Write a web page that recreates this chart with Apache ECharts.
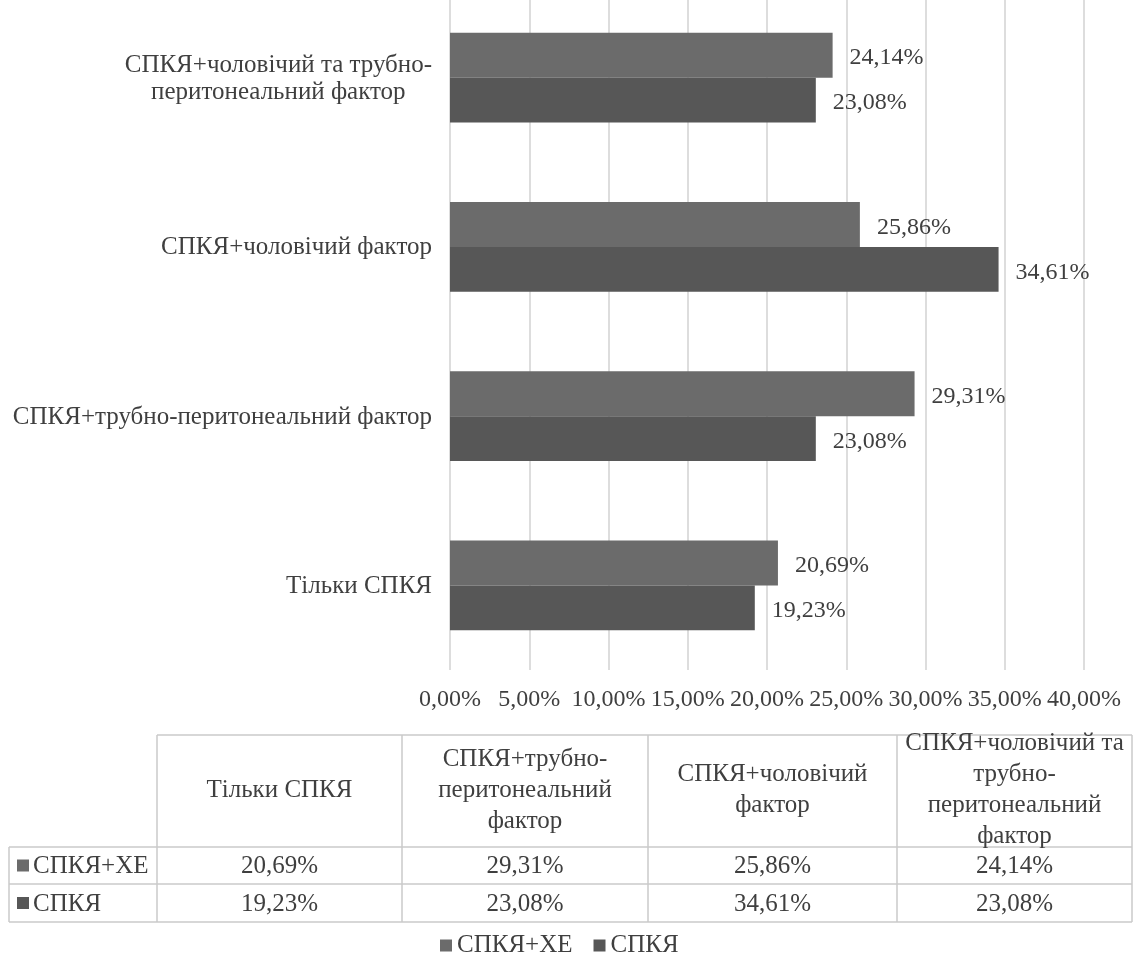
<!DOCTYPE html>
<html>
<head>
<meta charset="utf-8">
<script src="https://cdn.jsdelivr.net/npm/echarts@6/dist/echarts.min.js"></script>
<style>
html, body { margin: 0; padding: 0; background: #fff; }
#main { width: 1136px; height: 956px; }
</style>
</head>
<body>
<div id="main"></div>
<script>
var categories = ['Тільки СПКЯ', 'СПКЯ+трубно-перитонеальний фактор', 'СПКЯ+чоловічий фактор', 'СПКЯ+чоловічий та трубно-перитонеальний фактор'];
var axisLabels = ['Тільки СПКЯ', 'СПКЯ+трубно-перитонеальний фактор', 'СПКЯ+чоловічий фактор', 'СПКЯ+чоловічий та трубно-\nперитонеальний фактор'];
var tableHeaders = ['Тільки СПКЯ', 'СПКЯ+трубно-\nперитонеальний\nфактор', 'СПКЯ+чоловічий\nфактор', 'СПКЯ+чоловічий та\nтрубно-\nперитонеальний\nфактор'];
var seriesNames = ['СПКЯ+ХЕ', 'СПКЯ'];
var valuesXE = [20.69, 29.31, 25.86, 24.14];
var valuesSPKYA = [19.23, 23.08, 34.61, 23.08];
var seriesColors = ['#6b6b6b', '#575757'];

var FONT = "'Times New Roman', 'Liberation Serif', Tinos, 'DejaVu Serif', serif";
var TEXT_COLOR = '#3f3f3f';
var LINE_COLOR = '#cacaca';

var fmt = function(v) {
    return v.toFixed(2).replace('.', ',') + '%';
};

var myChart = echarts.init(document.getElementById('main'));

// data table under the chart (Excel style)
var colX = [157, 402, 648, 897, 1132];
var rowY = [735, 847, 884, 922];
var labelLeft = 9;
var graphics = [];

var hLine = function(x1, x2, y) {
    graphics.push({ type: 'line', shape: { x1: x1, y1: y, x2: x2, y2: y }, style: { stroke: LINE_COLOR, lineWidth: 1.5 } });
};
var vLine = function(x, y1, y2) {
    graphics.push({ type: 'line', shape: { x1: x, y1: y1, x2: x, y2: y2 }, style: { stroke: LINE_COLOR, lineWidth: 1.5 } });
};
var cellText = function(text, x, y, align, lh) {
    graphics.push({
        type: 'text', x: x, y: y,
        style: { text: text, align: align || 'center', verticalAlign: 'middle', fontFamily: FONT, fontSize: 25, lineHeight: lh || 28, fill: TEXT_COLOR }
    });
};

hLine(colX[0], colX[4], rowY[0]);
for (var r = 1; r < rowY.length; r++) {
    hLine(labelLeft, colX[4], rowY[r]);
}
vLine(labelLeft, rowY[1], rowY[3]);
for (var c = 0; c < colX.length; c++) {
    vLine(colX[c], rowY[0], rowY[3]);
}

var tableRows = [valuesXE, valuesSPKYA];
for (var i = 0; i < categories.length; i++) {
    var cx = (colX[i] + colX[i + 1]) / 2;
    cellText(tableHeaders[i], cx, (rowY[0] + rowY[1]) / 2 - 1, 'center', 31);
    for (var r = 0; r < tableRows.length; r++) {
        cellText(fmt(tableRows[r][i]), cx, (rowY[r + 1] + rowY[r + 2]) / 2 + 1);
    }
}
for (var r = 0; r < seriesNames.length; r++) {
    var cy = (rowY[r + 1] + rowY[r + 2]) / 2;
    graphics.push({ type: 'rect', shape: { x: 17, y: cy - 6, width: 12, height: 12 }, style: { fill: seriesColors[r] } });
    cellText(seriesNames[r], 33, cy + 1, 'left');
}

var option = {
    animation: false,
    backgroundColor: '#fff',
    textStyle: { fontFamily: FONT },
    grid: { left: 450, width: 634, top: -7, height: 677, containLabel: false, outerBoundsMode: 'none' },
    legend: {
        data: seriesNames,
        left: 440,
        top: 933,
        padding: 0,
        icon: 'rect',
        itemWidth: 12,
        itemHeight: 12,
        itemGap: 21,
        textStyle: { fontFamily: FONT, fontSize: 25, color: TEXT_COLOR }
    },
    xAxis: {
        type: 'value',
        min: 0,
        max: 40,
        interval: 5,
        axisLine: { show: false },
        axisTick: { show: false },
        splitLine: { lineStyle: { color: '#d2d2d2', width: 1.5 } },
        axisLabel: {
            margin: 18,
            fontFamily: FONT,
            fontSize: 24,
            color: TEXT_COLOR,
            formatter: fmt
        }
    },
    yAxis: {
        type: 'category',
        data: categories,
        axisLine: { show: false },
        axisTick: { show: false },
        axisLabel: {
            margin: 18,
            formatter: function(value, idx) {
                return axisLabels[idx].split('\n').map(function(s) { return '{c|' + s + '}'; }).join('\n');
            },
            rich: {
                c: { align: 'center', fontFamily: FONT, fontSize: 25, lineHeight: 27, color: TEXT_COLOR, padding: [2, 0, 0, 0] }
            }
        }
    },
    series: [{
        name: seriesNames[0],
        type: 'bar',
        data: valuesXE,
        barGap: '0%',
        barCategoryGap: '47%',
        itemStyle: { color: seriesColors[0] },
        label: {
            show: true, position: 'right', distance: 17, offset: [0, 3],
            fontFamily: FONT, fontSize: 24, color: TEXT_COLOR,
            formatter: function(p) { return fmt(p.value); }
        }
    }, {
        name: seriesNames[1],
        type: 'bar',
        data: valuesSPKYA,
        barGap: '0%',
        barCategoryGap: '47%',
        itemStyle: { color: seriesColors[1] },
        label: {
            show: true, position: 'right', distance: 17, offset: [0, 3],
            fontFamily: FONT, fontSize: 24, color: TEXT_COLOR,
            formatter: function(p) { return fmt(p.value); }
        }
    }],
    graphic: graphics
};

myChart.setOption(option);
</script>
</body>
</html>
